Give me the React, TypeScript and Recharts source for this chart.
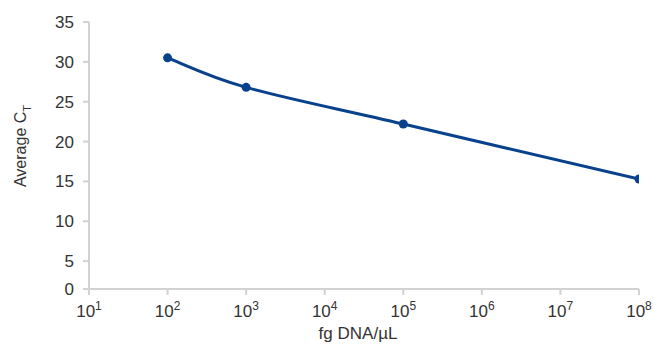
import { LineChart, Line, XAxis, YAxis, Label } from 'recharts';

// dilution series (fg DNA per µL) and the mean Ct measured at each
const concentrations = [1e2, 1e3, 1e5, 1e8];
const averageCt = [30.5, 26.8, 22.2, 15.3];

const xTicks = [1e1, 1e2, 1e3, 1e4, 1e5, 1e6, 1e7, 1e8];
const yTicks = [1.5, 5, 10, 15, 20, 25, 30, 35];
const yBottom = 1.5; // axis floor, labelled as 0

const data = concentrations.map((c, i) => ({ conc: c, ct: averageCt[i] }));

const LINE_COLOR = '#08418c';
const AXIS_COLOR = '#d2d2d2';
const TEXT_COLOR = '#333333';
const FONT = '"Liberation Sans", Arial, sans-serif';

// spreadsheet-style smoothed line: cubic Bezier with Catmull-Rom tangents
const smoothCurve = (context: any) => {
  let pts: number[][] = [];
  return {
    areaStart() {},
    areaEnd() {},
    lineStart() {
      pts = [];
    },
    point(x: number, y: number) {
      pts.push([+x, +y]);
    },
    lineEnd() {
      const n = pts.length;
      if (!n) return;
      context.moveTo(pts[0][0], pts[0][1]);
      for (let i = 0; i < n - 1; i++) {
        const p0 = pts[Math.max(i - 1, 0)];
        const p1 = pts[i];
        const p2 = pts[i + 1];
        const p3 = pts[Math.min(i + 2, n - 1)];
        context.bezierCurveTo(
          p1[0] + (p2[0] - p0[0]) / 6,
          p1[1] + (p2[1] - p0[1]) / 6,
          p2[0] - (p3[0] - p1[0]) / 6,
          p2[1] - (p3[1] - p1[1]) / 6,
          p2[0],
          p2[1],
        );
      }
    },
  };
};

const PowerTick = ({ x, y, payload }: any) => {
  const exp = Math.round(Math.log10(payload.value));
  return (
    <text x={x} y={y + 20} textAnchor="middle" fill={TEXT_COLOR} fontSize={17} fontFamily={FONT}>
      10
      <tspan dy={-7} fontSize={12}>{exp}</tspan>
    </text>
  );
};

const CtTick = ({ x, y, payload }: any) => (
  <text x={x - 7} y={y + 6} textAnchor="end" fill={TEXT_COLOR} fontSize={17} fontFamily={FONT}>
    {payload.value === yBottom ? 0 : payload.value}
  </text>
);

export default function App() {
  return (
    <div style={{ width: 654, height: 344, background: '#fff' }}>
      <style>{`body{margin:0}`}</style>
      <LineChart width={654} height={344} data={data} margin={{ top: 22, right: 15, left: 0, bottom: 0 }}>
        <XAxis
          dataKey="conc"
          type="number"
          scale="log"
          domain={[1e1, 1e8]}
          ticks={xTicks}
          height={55}
          stroke={AXIS_COLOR}
          strokeWidth={2}
          tickSize={6}
          tick={<PowerTick />}
          interval={0}
          allowDataOverflow
        >
          <Label
            content={() => (
              <text x={358} y={339} textAnchor="middle" fill={TEXT_COLOR} fontSize={17} fontFamily={FONT}>
                fg DNA/µL
              </text>
            )}
          />
        </XAxis>
        <YAxis
          type="number"
          domain={[yBottom, 35]}
          ticks={yTicks}
          width={89}
          stroke={AXIS_COLOR}
          strokeWidth={2}
          tickSize={6}
          tick={<CtTick />}
          interval={0}
          allowDataOverflow
        >
          <Label
            content={() => (
              <text
                transform="translate(26,146) rotate(-90)"
                textAnchor="middle"
                fill={TEXT_COLOR}
                fontSize={16}
                fontFamily={FONT}
              >
                Average C<tspan dy={5} fontSize={11}>T</tspan>
              </text>
            )}
          />
        </YAxis>
        <Line
          dataKey="ct"
          type={smoothCurve as any}
          stroke={LINE_COLOR}
          strokeWidth={3}
          dot={{ r: 4.5, fill: LINE_COLOR, stroke: LINE_COLOR, strokeWidth: 0 }}
          isAnimationActive={false}
        />
      </LineChart>
    </div>
  );
}
